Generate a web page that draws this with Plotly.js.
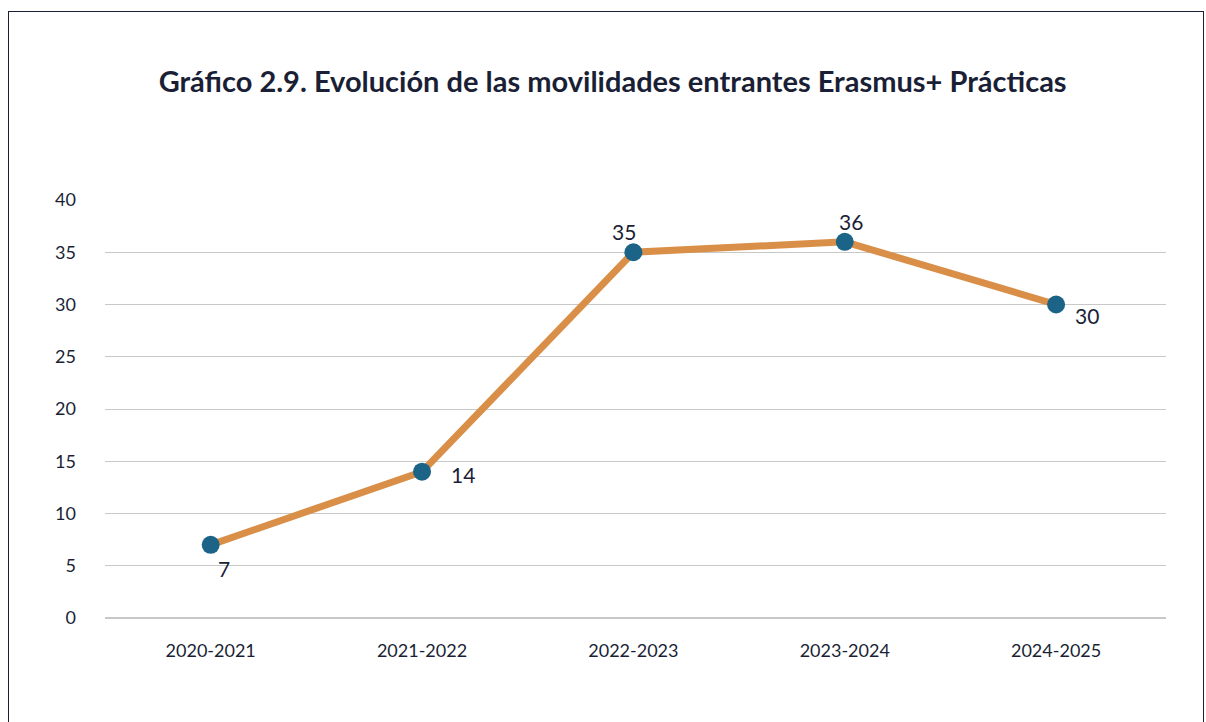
<!DOCTYPE html>
<html>
<head>
<meta charset="utf-8">
<script src="https://cdn.plot.ly/plotly-3.0.1.min.js"></script>
<style>
html,body{margin:0;padding:0;background:#fff;}
#wrap{position:relative;width:1206px;height:722px;}
#chart{width:1206px;height:722px;}
#frame{position:absolute;left:8px;top:11px;width:1194px;height:720px;border:1.5px solid #1a1f36;border-bottom:none;pointer-events:none;}
</style>
</head>
<body>
<div id="wrap"><div id="chart"></div><div id="frame"></div></div>
<script>
const categories = ["2020-2021","2021-2022","2022-2023","2023-2024","2024-2025"];
const values = [7, 14, 35, 36, 30];
const labelShiftX = [13, 41, -9, 6, 31];
const labelShiftY = [-24, -3, 21, 20, -11];
const yTicks = [0,5,10,15,20,25,30,35,40];

const trace = {
  x: categories,
  y: values,
  type: "scatter",
  mode: "lines+markers",
  line: {color: "#D98F48", width: 7},
  marker: {color: "#1B6487", size: 18},
  cliponaxis: false,
  hoverinfo: "skip"
};

const annotations = categories.map((c, i) => ({
  x: c, y: values[i], xref: "x", yref: "y",
  text: String(values[i]), showarrow: false,
  xshift: labelShiftX[i], yshift: labelShiftY[i],
  font: {family: "Lato", size: 21, color: "#1a1f36"}
}));

const layout = {
  width: 1206, height: 722,
  margin: {l: 105, r: 40, t: 200, b: 104},
  paper_bgcolor: "#fff", plot_bgcolor: "#fff",
  showlegend: false,
  font: {family: "Lato", color: "#1a1f36"},
  title: {text: "<b>Gráfico 2.9. Evolución de las movilidades entrantes Erasmus+ Prácticas</b>",
    font: {family: "Lato", size: 29, color: "#1a1f36"}, x: 0.508, xanchor: "center", y: 0.886, yanchor: "middle"},
  xaxis: {type: "category", range: [-0.5, 4.52], showgrid: false, zeroline: false, showline: false,
    ticks: "", tickfont: {family: "Lato", size: 18, color: "#1a1f36"}, ticklabelstandoff: 20},
  yaxis: {range: [0, 40], tickvals: yTicks, showgrid: true, gridcolor: "#c8c8c8", gridwidth: 1,
    zeroline: true, zerolinecolor: "#c8c8c8", zerolinewidth: 1.5, showline: false, ticks: "",
    tickfont: {family: "Lato", size: 18, color: "#1a1f36"}, ticklabelstandoff: 28},
  annotations: annotations
};

Plotly.newPlot("chart", [trace], layout, {staticPlot: true, displayModeBar: false});
</script>
</body>
</html>
